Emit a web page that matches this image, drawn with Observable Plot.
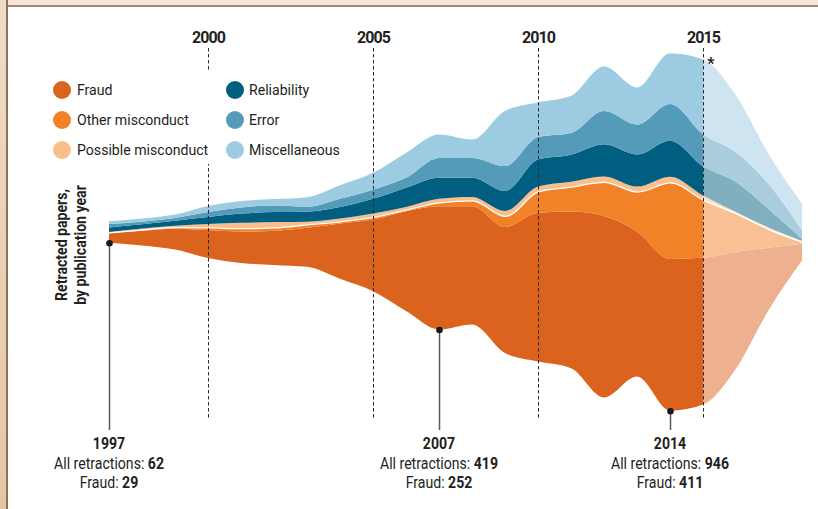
<!DOCTYPE html>
<html><head><meta charset="utf-8">
<script src="https://cdn.jsdelivr.net/npm/d3@7"></script>
<script src="https://cdn.jsdelivr.net/npm/@observablehq/plot@0.6"></script>
<style>
html,body{margin:0;padding:0;background:#fff;}
#wrap{position:relative;width:818px;height:509px;overflow:hidden;background:#fff;font-family:Roboto,sans-serif;color:#231f20;}
#topbar{position:absolute;left:0;top:0;width:818px;height:5px;background:#f4e6d8;border-bottom:2px solid #9f8b77;}
#leftbar{position:absolute;left:0;top:0;width:6px;height:509px;background:linear-gradient(#efdcc6,#e4c6a4);border-right:2px solid #8d7058;}
#chart{position:absolute;left:0;top:0;}
.legend{position:absolute;left:50px;top:72px;width:296px;height:92px;background:#fff;}
.item{position:absolute;height:20px;font-size:15.5px;line-height:20px;white-space:nowrap;}
.sw{position:absolute;left:0;top:1px;width:18px;height:18px;border-radius:50%;}
.lab{position:absolute;top:0;transform:scaleX(0.91);transform-origin:0 50%;}
.ylab{position:absolute;left:-29px;top:226px;width:200px;text-align:center;font-weight:bold;font-size:16px;line-height:19px;transform:rotate(-90deg) scaleX(0.88);white-space:nowrap;}
.ann{position:absolute;width:200px;text-align:center;font-size:16px;line-height:19.5px;white-space:nowrap;transform:scaleX(0.88);transform-origin:50% 50%;}
.ann b{font-weight:bold;}
</style>
</head>
<body>
<div id="wrap">
  <div id="topbar"></div>
  <div id="leftbar"></div>
  <div id="chart"></div>
</div>
<script>
const years = [1997,1998,1999,2000,2001,2002,2003,2004,2005,2006,2007,2008,2009,2010,2011,2012,2013,2014,2015,2016,2017,2018];
const categories = ["Fraud","Other misconduct","Possible misconduct","Reliability","Error","Miscellaneous"];
const colors = ["#db631e","#f18228","#f9be8c","#005e80","#549bba","#9ccbe2"];
const fraud              = [26, 38, 54, 73, 82, 89, 102, 144, 187, 261, 322, 309, 329, 388, 409, 474, 379, 396, 383, 305, 161, 44];
const otherMisconduct    = [1, 3, 4, 7, 9, 9, 9, 6, 7, 4, 10, 15, 29, 56, 65, 89, 104, 200, 152, 100, 48, 5];
const possibleMisconduct = [1, 3, 4, 9, 14, 14, 7, 7, 9, 7, 9, 9, 13, 13, 13, 14, 13, 15, 11, 4, 4, 2];
const reliability        = [12, 11, 13, 18, 24, 26, 26, 30, 38, 50, 55, 50, 52, 70, 70, 84, 84, 94, 76, 78, 48, 6];
const error              = [9, 7, 7, 13, 16, 17, 13, 22, 24, 26, 52, 52, 65, 59, 57, 87, 78, 96, 84, 78, 65, 22];
const miscellaneous      = [7, 8, 9, 16, 17, 17, 25, 35, 44, 65, 61, 48, 144, 90, 97, 116, 97, 132, 195, 148, 78, 70];
const tickYears = [2000, 2005, 2010, 2015];
const provisional = [{start: 2015, end: 2018}];
const provisionalNote = [{year: 2015, mark: "*"}];
const annotations = [
  {year: 1997, total: 62, fraud: 29},
  {year: 2007, total: 419, fraud: 252},
  {year: 2014, total: 946, fraud: 411}
];
const yLabel = ["Retracted papers,", "by publication year"];

const series = [fraud, otherMisconduct, possibleMisconduct, reliability, error, miscellaneous];
const data = years.flatMap((year, i) => categories.map((category, j) => ({year, category, value: series[j][i]})));
const totals = years.map((y, i) => d3.sum(series, s => s[i]));
const totalOf = yr => totals[years.indexOf(yr)];
const mid = d3.max(totals) / 2;
const yDomain = [mid - 485.6, mid + 480.4];
const curve = "monotone-x";

const plot = Plot.plot({
  width: 818, height: 509,
  marginLeft: 109, marginRight: 16, marginTop: 48, marginBottom: 91,
  x: {domain: [1997, 2018], axis: null},
  y: {domain: yDomain, axis: null},
  color: {domain: categories, range: colors},
  style: {background: "none", fontFamily: "Roboto, sans-serif", letterSpacing: "-0.9px", color: "#231f20", overflow: "visible"},
  marks: [
    Plot.areaY(data, {x: "year", y: "value", z: "category", fill: "category", order: categories, offset: "center", curve}),
    Plot.lineY(data, Plot.stackY1({x: "year", y: "value", z: "category", order: categories, offset: "center", curve,
      stroke: "white", strokeWidth: 1.3, strokeOpacity: d => d.category === "Possible misconduct" ? 1 : 0})),
    Plot.rect(provisional, {x1: "start", x2: "end", fill: "white", fillOpacity: 0.5}),
    Plot.ruleX(tickYears, {stroke: "#2a2a2a", strokeWidth: 1, strokeDasharray: "3.5,2.5"}),
    Plot.ruleX(annotations, {x: "year", y1: d => mid - totalOf(d.year) / 2, y2: () => yDomain[0], insetBottom: -12, stroke: "#5a5a5a", strokeWidth: 1.5}),
    Plot.dot(annotations, {x: "year", y: d => mid - totalOf(d.year) / 2, r: 3.3, fill: "#1a1a1a"}),
    Plot.text(tickYears, {x: d => d, text: d => String(d), frameAnchor: "top", lineAnchor: "bottom", dy: -6, fontWeight: "bold", fontSize: 16, fill: "#231f20"}),
    Plot.text(provisionalNote, {x: "year", text: "mark", frameAnchor: "top", lineAnchor: "bottom", dy: 20, dx: 7, fontWeight: "bold", fontSize: 16, fill: "#231f20"})
  ]
});
const chart = document.getElementById("chart");
chart.appendChild(plot);

const wrap = document.getElementById("wrap");
// legend
const legend = document.createElement("div");
legend.className = "legend";
categories.forEach((c, i) => {
  const col = Math.floor(i / 3), row = i % 3;
  const item = document.createElement("div");
  item.className = "item";
  item.style.left = (col ? 176 : 3) + "px";
  item.style.top = (8 + row * 30) + "px";
  item.innerHTML = `<span class="sw" style="background:${colors[i]}"></span><span class="lab" style="left:${col ? 23 : 24}px">${c}</span>`;
  legend.appendChild(item);
});
wrap.appendChild(legend);
// y label
const yl = document.createElement("div");
yl.className = "ylab";
yl.innerHTML = yLabel.join("<br>");
wrap.appendChild(yl);
// annotations
const xs = plot.scale("x");
annotations.forEach(a => {
  const d = document.createElement("div");
  d.className = "ann";
  d.style.left = (xs.apply(a.year) - 100) + "px";
  d.style.top = (509 - 91 + 16) + "px";
  d.innerHTML = `<b>${a.year}</b><br>All retractions: <b>${a.total}</b><br>Fraud: <b>${a.fraud}</b>`;
  wrap.appendChild(d);
});
</script>
</body></html>
